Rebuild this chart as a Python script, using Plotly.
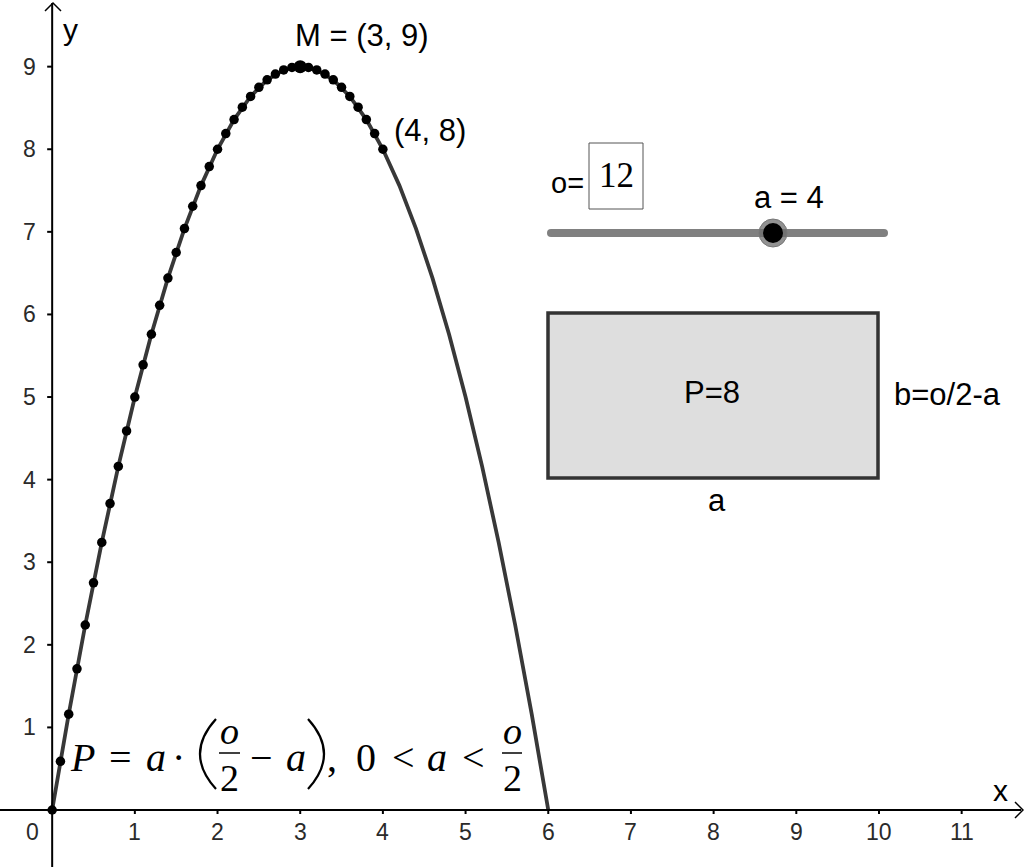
import plotly.graph_objects as go

W, H = 1024, 867

# ---- data ----
curve_a = [0, 0.2, 0.4, 0.6, 0.8, 1.0, 1.2, 1.4, 1.6, 1.8, 2.0, 2.2, 2.4, 2.6, 2.8, 3.0,
           3.2, 3.4, 3.6, 3.8, 4.0, 4.2, 4.4, 4.6, 4.8, 5.0, 5.2, 5.4, 5.6, 5.8, 6.0]
curve_P = [0, 1.16, 2.24, 3.24, 4.16, 5, 5.76, 6.44, 7.04, 7.56, 8, 8.36, 8.64, 8.84, 8.96, 9,
           8.96, 8.84, 8.64, 8.36, 8, 7.56, 7.04, 6.44, 5.76, 5, 4.16, 3.24, 2.24, 1.16, 0]
dots_a = [0, 0.1, 0.2, 0.3, 0.4, 0.5, 0.6, 0.7, 0.8, 0.9, 1.0, 1.1, 1.2, 1.3, 1.4, 1.5, 1.6,
          1.7, 1.8, 1.9, 2.0, 2.1, 2.2, 2.3, 2.4, 2.5, 2.6, 2.7, 2.8, 2.9, 3.0, 3.1, 3.2,
          3.3, 3.4, 3.5, 3.6, 3.7, 3.8, 3.9, 4.0]
dots_P = [0, 0.59, 1.16, 1.71, 2.24, 2.75, 3.24, 3.71, 4.16, 4.59, 5, 5.39, 5.76, 6.11, 6.44,
          6.75, 7.04, 7.31, 7.56, 7.79, 8, 8.19, 8.36, 8.51, 8.64, 8.75, 8.84, 8.91, 8.96,
          8.99, 9, 8.99, 8.96, 8.91, 8.84, 8.75, 8.64, 8.51, 8.36, 8.19, 8]
vertex = [3, 9]
x_ticks = [1, 2, 3, 4, 5, 6, 7, 8, 9, 10, 11]
y_ticks = [1, 2, 3, 4, 5, 6, 7, 8, 9]

XR = [-0.631, 11.754]
YR = [-0.690, 9.807]


def X(px):
    return px / W


def Y(py):
    return 1 - py / H


fig = go.Figure()
fig.add_trace(go.Scatter(x=curve_a, y=curve_P, mode="lines",
                         line=dict(color="#383838", width=3.8), hoverinfo="skip"))
fig.add_trace(go.Scatter(x=dots_a, y=dots_P, mode="markers",
                         marker=dict(color="black", size=9.5), hoverinfo="skip"))
fig.add_trace(go.Scatter(x=[vertex[0]], y=[vertex[1]], mode="markers",
                         marker=dict(color="black", size=13), hoverinfo="skip"))

shapes = []
annotations = []

# axes
shapes.append(dict(type="line", xref="x", yref="y", x0=XR[0], x1=11.72, y0=0, y1=0,
                   line=dict(color="black", width=2)))
shapes.append(dict(type="line", xref="x", yref="y", x0=0, x1=0, y0=YR[0], y1=9.77,
                   line=dict(color="black", width=2)))
# arrows
shapes.append(dict(type="path", xref="paper", yref="paper",
                   path=f"M {X(1015)} {Y(802)} L {X(1023)} {Y(810)} L {X(1015)} {Y(818)}",
                   line=dict(color="black", width=1.5)))
shapes.append(dict(type="path", xref="paper", yref="paper",
                   path=f"M {X(45)} {Y(11)} L {X(53)} {Y(3)} L {X(61)} {Y(11)}",
                   line=dict(color="black", width=1.5)))

tick_font = dict(family="Liberation Sans, Arial", size=23, color="#2a2a2a")
for t in x_ticks:
    shapes.append(dict(type="line", xref="x", yref="y", x0=t, x1=t, ysizemode="pixel",
                       yanchor=0, y0=0, y1=-4, line=dict(color="black", width=2)))
    annotations.append(dict(x=t, y=0, xref="x", yref="y", text=str(t), showarrow=False,
                            yshift=-22, font=tick_font))
for t in y_ticks:
    shapes.append(dict(type="line", xref="x", yref="y", y0=t, y1=t, xsizemode="pixel",
                       xanchor=0, x0=-5, x1=0, line=dict(color="black", width=2)))
    annotations.append(dict(x=0, y=t, xref="x", yref="y", text=str(t), showarrow=False,
                            xanchor="right", xshift=-14, font=tick_font))
annotations.append(dict(x=0, y=0, xref="x", yref="y", text="0", showarrow=False,
                        xshift=-20, yshift=-22, font=tick_font))


def txt(px, py, s, size=31, family="Liberation Sans, Arial", xanchor="center",
        color="black", style="normal"):
    annotations.append(dict(x=X(px), y=Y(py), xref="paper", yref="paper", text=s,
                            showarrow=False, xanchor=xanchor, yanchor="middle",
                            font=dict(family=family, size=size, color=color, style=style)))


txt(70, 30, "y", size=30)
txt(1000, 790, "x", size=30)
txt(362, 36, "M = (3, 9)")
txt(392, 130, "(4, 8)", xanchor="left")

# slider + input box
txt(549, 183, "o=", xanchor="left", size=29)
shapes.append(dict(type="rect", xref="paper", yref="paper", x0=X(589), x1=X(643),
                   y0=Y(143), y1=Y(209), line=dict(color="#555555", width=1)))
txt(616, 176, "12", size=35, family="Liberation Serif, Times New Roman")
shapes.append(dict(type="line", xref="paper", yref="paper", x0=X(551), x1=X(884),
                   y0=Y(233), y1=Y(233), line=dict(color="#808080", width=8)))
for cx in (551, 884):
    shapes.append(dict(type="circle", xref="paper", yref="paper", xsizemode="pixel",
                       ysizemode="pixel", xanchor=X(cx), yanchor=Y(233), x0=-4, x1=4,
                       y0=-4, y1=4, fillcolor="#808080", line=dict(width=0)))
shapes.append(dict(type="circle", xref="paper", yref="paper", xsizemode="pixel",
                   ysizemode="pixel", xanchor=X(773), yanchor=Y(233), x0=-14, x1=14,
                   y0=-14, y1=14, fillcolor="rgba(110,110,110,0.75)",
                   line=dict(color="#777777", width=1)))
shapes.append(dict(type="circle", xref="paper", yref="paper", xsizemode="pixel",
                   ysizemode="pixel", xanchor=X(773), yanchor=Y(233), x0=-10, x1=10,
                   y0=-10, y1=10, fillcolor="black", line=dict(width=0)))
txt(789, 198, "a = 4")

# rectangle
shapes.append(dict(type="rect", xref="paper", yref="paper", x0=X(548), x1=X(878),
                   y0=Y(313), y1=Y(478), fillcolor="#dedede",
                   line=dict(color="#333333", width=3.5), layer="below"))
txt(712, 392, "P=8")
txt(892, 395, "b=o/2-a", xanchor="left")
txt(717, 500, "a")

# formula
SER = "Liberation Serif, Times New Roman"
fy = 757
txt(82, fy, "P", size=40, family=SER, style="italic")
txt(120, fy, "=", size=40, family=SER)
txt(156, fy, "a", size=40, family=SER, style="italic")
txt(178, fy, "·", size=40, family=SER)
shapes.append(dict(type="path", xref="paper", yref="paper",
                   path=f"M {X(216)} {Y(719)} Q {X(184)} {Y(754)} {X(216)} {Y(789)}",
                   line=dict(color="black", width=2.2)))
txt(229, 731, "o", size=38, family=SER, style="italic")
shapes.append(dict(type="line", xref="paper", yref="paper", x0=X(219), x1=X(240),
                   y0=Y(753), y1=Y(753), line=dict(color="black", width=1.5)))
txt(229, 778, "2", size=38, family=SER)
txt(261, fy, "−", size=40, family=SER)
txt(296, fy, "a", size=40, family=SER, style="italic")
shapes.append(dict(type="path", xref="paper", yref="paper",
                   path=f"M {X(308)} {Y(719)} Q {X(340)} {Y(754)} {X(308)} {Y(789)}",
                   line=dict(color="black", width=2.2)))
txt(332, fy, ",", size=40, family=SER)
txt(366, fy, "0", size=40, family=SER)
txt(403, fy, "<", size=40, family=SER)
txt(437, fy, "a", size=40, family=SER, style="italic")
txt(473, fy, "<", size=40, family=SER)
txt(512, 731, "o", size=38, family=SER, style="italic")
shapes.append(dict(type="line", xref="paper", yref="paper", x0=X(502), x1=X(522),
                   y0=Y(753), y1=Y(753), line=dict(color="black", width=1.5)))
txt(512, 778, "2", size=38, family=SER)

fig.update_layout(
    width=W, height=H, margin=dict(l=0, r=0, t=0, b=0),
    paper_bgcolor="white", plot_bgcolor="white", showlegend=False,
    xaxis=dict(range=XR, visible=False, fixedrange=True),
    yaxis=dict(range=YR, visible=False, fixedrange=True),
    shapes=shapes, annotations=annotations,
)
fig.write_html("out.html", config={"displayModeBar": False},
               post_script="document.body.style.margin='0px';document.body.style.overflow='hidden';")
